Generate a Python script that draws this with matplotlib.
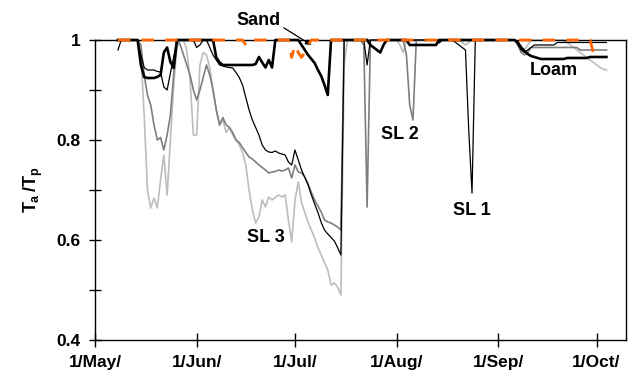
import matplotlib
matplotlib.use("Agg")
import matplotlib.pyplot as plt
import pandas as pd

plt.rcParams['font.family'] = ['Liberation Sans', 'DejaVu Sans']
plt.rcParams['font.weight'] = 'bold'
plt.rcParams['mathtext.fontset'] = 'custom'
plt.rcParams['mathtext.rm'] = 'Liberation Sans:bold'
plt.rcParams['mathtext.it'] = 'Liberation Sans:bold'
plt.rcParams['mathtext.bf'] = 'Liberation Sans:bold'

# daily Ta/Tp, 8 May - 4 Oct
dates = pd.date_range("2003-05-08", "2003-10-04")
sand_dates = pd.date_range("2003-05-08", "2003-09-30")

sl1 = [
    0.98, 1.0, 1.0, 1.0, 1.0, 1.0, 1.0, 0.97, 0.945, 0.94,
    0.94, 0.94, 0.937, 0.936, 0.906, 0.90, 0.934, 0.966, 1.0, 1.0,
    1.0, 1.0, 1.0, 1.0, 0.985, 0.99, 1.0, 1.0, 0.985, 0.97,
    0.96, 0.95, 0.948, 0.946, 0.945, 0.944, 0.935, 0.925, 0.91, 0.885,
    0.86, 0.84, 0.825, 0.81, 0.79, 0.78, 0.776, 0.775, 0.778, 0.774,
    0.772, 0.77, 0.756, 0.75, 0.78, 0.76, 0.74, 0.725, 0.71, 0.69,
    0.672, 0.655, 0.635, 0.62, 0.612, 0.605, 0.598, 0.585, 0.57, 1.0,
    1.0, 1.0, 1.0, 1.0, 1.0, 1.0, 0.95, 1.0, 1.0, 1.0,
    1.0, 1.0, 1.0, 1.0, 1.0, 1.0, 1.0, 1.0, 1.0, 1.0,
    1.0, 1.0, 1.0, 1.0, 1.0, 1.0, 1.0, 1.0, 0.994, 1.0,
    1.0, 1.0, 1.0, 0.995, 0.99, 0.985, 0.98, 0.82, 0.694, 1.0,
    1.0, 1.0, 1.0, 1.0, 1.0, 1.0, 1.0, 1.0, 1.0, 1.0,
    1.0, 1.0, 0.99, 0.98, 0.975, 0.98, 0.985, 0.99, 0.99, 0.99,
    0.99, 0.99, 0.99, 0.99, 0.995, 0.995, 0.995, 0.995, 0.995, 0.995,
    0.995, 0.995, 0.995, 0.995, 0.995, 0.995, 0.995, 0.995, 0.995, 0.995,
]

sl2 = [
    1.0, 1.0, 1.0, 1.0, 1.0, 1.0, 1.0, 0.99, 0.93, 0.89,
    0.87, 0.83, 0.80, 0.805, 0.78, 0.81, 0.85, 0.93, 1.0, 0.99,
    0.97, 0.95, 0.93, 0.90, 0.88, 0.90, 0.925, 0.95, 0.93, 0.90,
    0.86, 0.83, 0.845, 0.83, 0.825, 0.815, 0.80, 0.795, 0.785, 0.775,
    0.766, 0.762, 0.756, 0.75, 0.745, 0.74, 0.734, 0.736, 0.737, 0.74,
    0.738, 0.74, 0.744, 0.724, 0.75, 0.736, 0.734, 0.726, 0.712, 0.695,
    0.68, 0.668, 0.656, 0.64, 0.636, 0.634, 0.63, 0.626, 0.62, 1.0,
    1.0, 1.0, 1.0, 1.0, 1.0, 0.99, 0.666, 1.0, 1.0, 1.0,
    1.0, 1.0, 1.0, 1.0, 1.0, 1.0, 1.0, 1.0, 0.97, 0.87,
    0.84, 1.0, 1.0, 1.0, 1.0, 1.0, 1.0, 1.0, 1.0, 1.0,
    1.0, 1.0, 1.0, 1.0, 1.0, 1.0, 1.0, 1.0, 1.0, 1.0,
    1.0, 1.0, 1.0, 1.0, 1.0, 1.0, 1.0, 1.0, 1.0, 1.0,
    1.0, 1.0, 0.99, 0.975, 0.97, 0.975, 0.985, 0.985, 0.985, 0.985,
    0.985, 0.985, 0.985, 0.985, 0.985, 0.985, 0.985, 0.985, 0.985, 0.985,
    0.985, 0.98, 0.98, 0.98, 0.98, 0.98, 0.98, 0.98, 0.98, 0.98,
]

sl3 = [
    1.0, 1.0, 1.0, 1.0, 1.0, 1.0, 1.0, 0.97, 0.85, 0.70,
    0.664, 0.684, 0.664, 0.72, 0.77, 0.69, 0.80, 0.91, 0.985, 1.0,
    1.0, 0.98, 0.92, 0.81, 0.81, 0.95, 0.975, 0.97, 0.945, 0.90,
    0.86, 0.83, 0.84, 0.815, 0.825, 0.81, 0.80, 0.79, 0.775, 0.75,
    0.70, 0.66, 0.634, 0.646, 0.68, 0.666, 0.686, 0.68, 0.685, 0.69,
    0.686, 0.69, 0.64, 0.596, 0.68, 0.716, 0.675, 0.655, 0.635, 0.62,
    0.604, 0.585, 0.57, 0.555, 0.54, 0.51, 0.514, 0.506, 0.49, 0.95,
    1.0, 1.0, 1.0, 1.0, 1.0, 1.0, 1.0, 1.0, 1.0, 1.0,
    1.0, 1.0, 1.0, 1.0, 1.0, 1.0, 0.99, 0.975, 1.0, 1.0,
    1.0, 1.0, 1.0, 1.0, 1.0, 1.0, 1.0, 1.0, 1.0, 1.0,
    1.0, 1.0, 1.0, 1.0, 1.0, 0.995, 0.99, 0.995, 1.0, 1.0,
    1.0, 1.0, 1.0, 1.0, 1.0, 1.0, 1.0, 1.0, 1.0, 1.0,
    1.0, 1.0, 0.995, 0.985, 0.98, 0.99, 1.0, 1.0, 1.0, 1.0,
    1.0, 1.0, 1.0, 1.0, 1.0, 1.0, 1.0, 0.995, 0.99, 0.985,
    0.98, 0.975, 0.97, 0.965, 0.96, 0.955, 0.95, 0.945, 0.942, 0.94,
]

loam = [
    1.0, 1.0, 1.0, 1.0, 1.0, 1.0, 1.0, 0.95, 0.926, 0.924,
    0.924, 0.924, 0.926, 0.93, 0.975, 0.985, 0.956, 0.944, 1.0, 1.0,
    1.0, 1.0, 1.0, 1.0, 1.0, 1.0, 1.0, 1.0, 1.0, 1.0,
    0.965, 0.955, 0.95, 0.95, 0.95, 0.95, 0.95, 0.95, 0.95, 0.95,
    0.95, 0.95, 0.952, 0.966, 0.955, 0.945, 0.96, 0.945, 1.0, 1.0,
    1.0, 1.0, 1.0, 1.0, 1.0, 1.0, 0.99, 0.98, 0.97, 0.962,
    0.954, 0.94, 0.928, 0.91, 0.89, 1.0, 1.0, 1.0, 1.0, 1.0,
    1.0, 1.0, 1.0, 1.0, 1.0, 1.0, 1.0, 0.99, 0.985, 0.98,
    0.975, 0.99, 1.0, 1.0, 1.0, 1.0, 1.0, 1.0, 1.0, 0.99,
    0.99, 0.99, 0.99, 0.99, 0.99, 0.99, 0.99, 0.99, 1.0, 1.0,
    1.0, 1.0, 1.0, 1.0, 1.0, 1.0, 1.0, 1.0, 1.0, 1.0,
    1.0, 1.0, 1.0, 1.0, 1.0, 1.0, 1.0, 1.0, 1.0, 1.0,
    1.0, 1.0, 0.995, 0.985, 0.978, 0.972, 0.968, 0.966, 0.964, 0.962,
    0.962, 0.962, 0.962, 0.962, 0.962, 0.962, 0.962, 0.964, 0.964, 0.964,
    0.964, 0.964, 0.964, 0.964, 0.966, 0.966, 0.966, 0.966, 0.966, 0.966,
]

sand = [
    1.0, 1.0, 1.0, 1.0, 1.0, 1.0, 1.0, 1.0, 1.0, 1.0,
    1.0, 1.0, 1.0, 1.0, 1.0, 1.0, 1.0, 1.0, 1.0, 1.0,
    1.0, 1.0, 1.0, 1.0, 1.0, 1.0, 1.0, 1.0, 1.0, 1.0,
    1.0, 1.0, 1.0, 1.0, 1.0, 1.0, 1.0, 1.0, 1.0, 0.99,
    1.0, 1.0, 1.0, 1.0, 1.0, 1.0, 1.0, 1.0, 1.0, 1.0,
    1.0, 1.0, 1.0, 0.965, 0.99, 0.975, 0.965, 0.975, 0.99, 1.0,
    1.0, 1.0, 1.0, 1.0, 1.0, 1.0, 1.0, 1.0, 1.0, 1.0,
    1.0, 1.0, 1.0, 1.0, 1.0, 1.0, 1.0, 1.0, 1.0, 1.0,
    1.0, 1.0, 1.0, 1.0, 1.0, 1.0, 1.0, 1.0, 1.0, 1.0,
    1.0, 1.0, 1.0, 1.0, 1.0, 1.0, 1.0, 1.0, 1.0, 1.0,
    1.0, 1.0, 1.0, 1.0, 1.0, 1.0, 1.0, 1.0, 1.0, 1.0,
    1.0, 1.0, 1.0, 1.0, 1.0, 1.0, 1.0, 1.0, 1.0, 1.0,
    1.0, 1.0, 1.0, 1.0, 1.0, 1.0, 1.0, 1.0, 1.0, 1.0,
    1.0, 1.0, 1.0, 1.0, 1.0, 1.0, 1.0, 1.0, 1.0, 1.0,
    1.0, 1.0, 1.0, 1.0, 1.0, 0.975,
]

month_ticks = ["2003-05-01", "2003-06-01", "2003-07-01", "2003-08-01",
               "2003-09-01", "2003-10-01"]
month_labels = ["1/May/", "1/Jun/", "1/Jul/", "1/Aug/", "1/Sep/", "1/Oct/"]
y_ticks = [0.4, 0.6, 0.8, 1.0]
y_labels = ["0.4", "0.6", "0.8", "1"]

fig = plt.figure(figsize=(6.3, 3.73), dpi=100)
ax = fig.add_axes([0.1508, 0.0885, 0.843, 0.8043])

ax.plot(dates, sl3, color="#bdbdbd", lw=1.2, clip_on=False, zorder=2)
ax.plot(dates, sl2, color="#7f7f7f", lw=1.2, clip_on=False, zorder=3)
ax.plot(dates, sl1, color="black", lw=0.9, clip_on=False, zorder=4)
ax.plot(dates, loam, color="black", lw=1.9, clip_on=False, zorder=5)
ax.plot(sand_dates, sand, color="#ff6600", lw=2.0,
        linestyle=(0, (4.5, 4)), clip_on=False, zorder=6)

ax.set_xlim(pd.Timestamp("2003-05-01"), pd.Timestamp("2003-10-10"))
ax.set_ylim(0.4, 1.0)

ax.set_xticks(pd.to_datetime(month_ticks))
ax.set_xticklabels(month_labels, fontsize=12.5, fontweight="bold")
ax.set_yticks(y_ticks)
ax.set_yticklabels(y_labels, fontsize=12.5, fontweight="bold")
ax.set_yticks([0.5, 0.7, 0.9], minor=True)

ax.tick_params(axis="x", direction="inout", length=10, width=1, pad=6)
ax.tick_params(axis="y", which="both", direction="inout", length=9,
               width=1, pad=6)

for sp in ax.spines.values():
    sp.set_linewidth(1.0)
    sp.set_color("black")

ax.set_ylabel(r"$T_a\,/T_p$", fontsize=13, labelpad=8)

lab = dict(fontsize=13, fontweight="bold", ha="center", va="center")
ax.text(pd.Timestamp("2003-06-22"), 0.604, "SL 3", **lab)
ax.text(pd.Timestamp("2003-08-02"), 0.81, "SL 2", **lab)
ax.text(pd.Timestamp("2003-08-24"), 0.658, "SL 1", **lab)
ax.text(pd.Timestamp("2003-09-18"), 0.938, "Loam", **lab)
ax.annotate("Sand", xy=(pd.Timestamp("2003-07-06"), 0.99),
            xytext=(pd.Timestamp("2003-06-20"), 1.038),
            fontsize=13, fontweight="bold", ha="center", va="center",
            arrowprops=dict(arrowstyle="-|>", color="black", lw=0.9,
                            relpos=(1.0, 0.2), shrinkA=0, shrinkB=0,
                            mutation_scale=8))

fig.savefig("out.png", dpi=100)
